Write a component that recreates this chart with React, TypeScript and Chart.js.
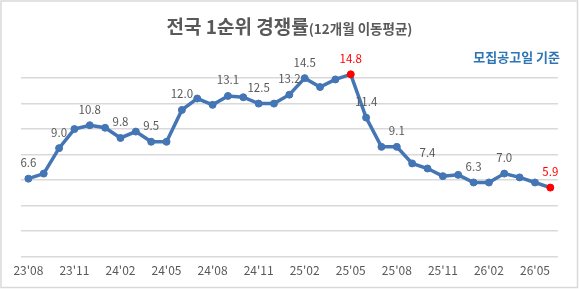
import React, { useEffect, useRef } from "react";
import { Chart, registerables } from "chart.js";

Chart.register(...registerables);

// Monthly categories, 23'08 through 26'06
const months = [
  "23'08", "23'09", "23'10", "23'11", "23'12",
  "24'01", "24'02", "24'03", "24'04", "24'05", "24'06", "24'07", "24'08", "24'09", "24'10", "24'11", "24'12",
  "25'01", "25'02", "25'03", "25'04", "25'05", "25'06", "25'07", "25'08", "25'09", "25'10", "25'11", "25'12",
  "26'01", "26'02", "26'03", "26'04", "26'05", "26'06",
];

// 12-month moving average of first-priority competition rate
const rates = [
  6.6, 7.0, 9.0, 10.5, 10.8, 10.6, 9.8, 10.3, 9.5, 9.5,
  12.0, 12.9, 12.4, 13.1, 13.0, 12.5, 12.5, 13.2, 14.5, 13.8,
  14.4, 14.8, 11.4, 9.1, 9.1, 7.8, 7.4, 6.8, 6.9, 6.3,
  6.3, 7.0, 6.7, 6.3, 5.9,
];

// Points that carry a value label, and the ones emphasised in red
const labeledIdx = [0, 2, 4, 6, 8, 10, 13, 15, 17, 18, 21, 22, 24, 26, 29, 31, 34];
const highlightIdx = [21, 34];

// Horizontal gridline values
const gridValues = [0.5, 2.5, 4.5, 6.5, 8.5, 10.5, 12.5, 14.5];

const titleMain = "전국 1순위 경쟁률";
const titleSub = "(12개월 이동평균)";
const basisNote = "모집공고일 기준";

const FONT = "'Noto Sans CJK KR', 'Noto Sans', sans-serif";
const LINE_BLUE = "#4475B5";
const HIGHLIGHT = "#FF0000";
const TEXT_GRAY = "#595959";

const framePlugin = {
  id: "frame",
  beforeDraw(chart: any) {
    const { ctx, width, height } = chart;
    ctx.save();
    ctx.fillStyle = "#ffffff";
    ctx.fillRect(0, 0, width, height);
    ctx.strokeStyle = "#d9d9d9";
    ctx.lineWidth = 1.5;
    ctx.strokeRect(1, 1, width - 2.5, height - 2.5);
    ctx.restore();
  },
  afterDraw(chart: any) {
    const { ctx, width } = chart;
    ctx.save();
    // Two-part title, centered as a whole
    const mainFont = `bold 19px ${FONT}`;
    const subFont = `bold 13.5px ${FONT}`;
    ctx.font = mainFont;
    const wMain = ctx.measureText(titleMain).width;
    ctx.font = subFont;
    const wSub = ctx.measureText(titleSub).width;
    const startX = width / 2 - (wMain + wSub) / 2;
    const baseY = 34;
    ctx.textBaseline = "alphabetic";
    ctx.textAlign = "left";
    ctx.fillStyle = TEXT_GRAY;
    ctx.font = mainFont;
    ctx.fillText(titleMain, startX, baseY);
    ctx.font = subFont;
    ctx.fillText(titleSub, startX + wMain, baseY);

    // Basis note, top right
    ctx.font = `bold 13px ${FONT}`;
    ctx.fillStyle = "#2E75B6";
    ctx.textAlign = "right";
    ctx.textBaseline = "middle";
    ctx.fillText(basisNote, 560, 57);
    ctx.restore();
  },
};

const valueLabelPlugin = {
  id: "valueLabels",
  afterDatasetsDraw(chart: any) {
    const { ctx } = chart;
    const meta = chart.getDatasetMeta(0);
    const data = chart.data.datasets[0].data as number[];
    ctx.save();
    ctx.font = `11.5px ${FONT}`;
    ctx.textAlign = "center";
    ctx.textBaseline = "alphabetic";
    labeledIdx.forEach((i) => {
      const pt = meta.data[i];
      if (!pt) return;
      ctx.fillStyle = highlightIdx.includes(i) ? HIGHLIGHT : TEXT_GRAY;
      ctx.fillText(data[i].toFixed(1), pt.x, pt.y - 11.5);
    });
    ctx.restore();
  },
};

export default function App() {
  const canvasRef = useRef<HTMLCanvasElement | null>(null);

  useEffect(() => {
    if (!canvasRef.current) return;
    const pointColors = rates.map((_, i) => (highlightIdx.includes(i) ? HIGHLIGHT : LINE_BLUE));
    const chart = new Chart(canvasRef.current, {
      type: "line",
      data: {
        labels: months,
        datasets: [
          {
            data: rates,
            borderColor: LINE_BLUE,
            borderWidth: 3.5,
            pointRadius: 3.5,
            pointBackgroundColor: pointColors,
            pointBorderColor: pointColors,
            pointBorderWidth: 1,
            tension: 0,
            clip: false as any,
          },
        ],
      },
      options: {
        animation: false,
        responsive: false,
        devicePixelRatio: 1,
        layout: { padding: { left: 20.7, right: 21, top: 52.7, bottom: 4.3 } },
        plugins: {
          legend: { display: false },
          title: { display: false },
          tooltip: { enabled: false },
        },
        scales: {
          x: {
            type: "category",
            offset: true,
            grid: { display: false, drawTicks: false },
            border: { display: false },
            ticks: {
              autoSkip: false,
              maxRotation: 0,
              minRotation: 0,
              padding: 7,
              color: TEXT_GRAY,
              font: { family: FONT, size: 12 },
              callback: (_v: any, i: number) => (i % 3 === 0 ? months[i] : ""),
            },
          },
          y: {
            min: 0.5,
            max: 16.5,
            afterBuildTicks: (scale: any) => {
              scale.ticks = gridValues.map((v) => ({ value: v }));
            },
            ticks: { display: false },
            grid: { color: "#d9d9d9", lineWidth: 1.5, drawTicks: false },
            border: { display: false },
          },
        },
      },
      plugins: [framePlugin, valueLabelPlugin],
    });
    return () => chart.destroy();
  }, []);

  return (
    <div style={{ position: "fixed", left: 0, top: 0, width: 579, height: 289 }}>
      <canvas ref={canvasRef} width={579} height={289} />
    </div>
  );
}
